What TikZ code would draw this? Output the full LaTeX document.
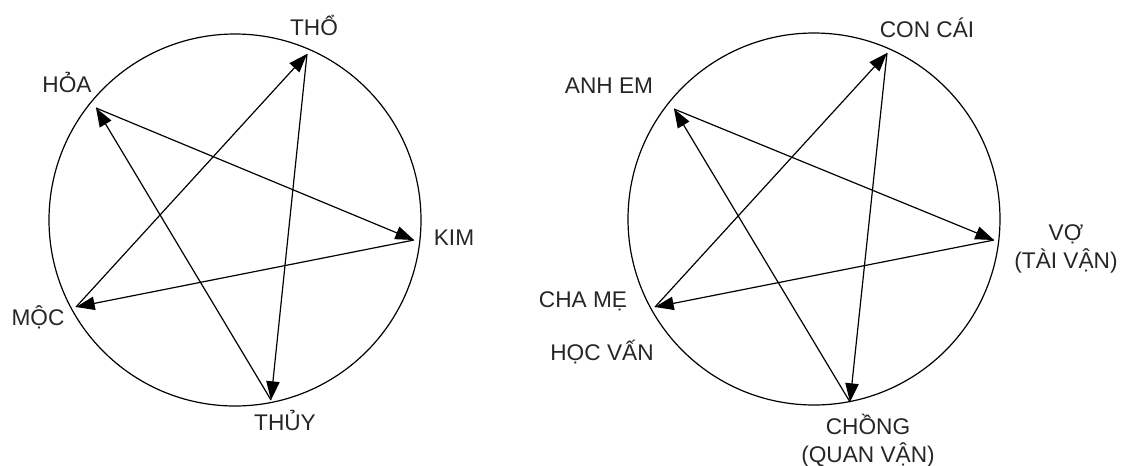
\documentclass[tikz,border=0pt]{standalone}
\usepackage{fontspec}
\setmainfont{Liberation Sans}
\usetikzlibrary{arrows.meta}

\tikzset{every picture/.style={line width=0.9pt}}
\tikzset{
  starline/.style={-{Triangle[length=14pt,width=10pt]}},
  vtxlabel/.style={font=\fontsize{17}{21}\selectfont, text=black!85, inner sep=0pt, anchor=base, align=center}
}

\begin{document}
\begin{tikzpicture}[x=0.75pt,y=0.75pt,yscale=-1,xscale=1]
        \useasboundingbox (0,0) rectangle (1124,465);

        % ngu hanh
        \draw    (235,220) circle (186) ;
        \coordinate (hoa) at (96,108);
        \coordinate (kim) at (414,240);
        \coordinate (moc) at (76,307);
        \coordinate (tho) at (307,54);
        \coordinate (thuy) at (271,400);
        \draw [starline]   (hoa) -- (kim) ;
        \draw [starline]   (kim) -- (moc) ;
        \draw [starline]   (moc) -- (tho) ;
        \draw [starline]   (tho) -- (thuy) ;
        \draw [starline]   (thuy) -- (hoa) ;
        \node [vtxlabel] (thoL) at (314,35) {THỔ};
        \node [vtxlabel] (hoaL) at (67,92) {HỎA};
        \node [vtxlabel] (kimL) at (454,245) {KIM};
        \node [vtxlabel] (mocL) at (38,325) {MỘC};
        \node [vtxlabel] (thuyL) at (285,430) {THỦY};

        % luc than
        \draw    (814,219) circle (186) ;
        \coordinate (anh) at (674,109);
        \coordinate (con) at (887,53);
        \coordinate (vo) at (994,240);
        \coordinate (cha) at (655,307);
        \coordinate (chong) at (850,402);
        \draw [starline]   (anh) -- (vo) ;
        \draw [starline]   (vo) -- (cha) ;
        \draw [starline]   (cha) -- (con) ;
        \draw [starline]   (con) -- (chong) ;
        \draw [starline]   (chong) -- (anh) ;
        \node [vtxlabel] (anhL) at (609,93) {ANH EM};
        \node [vtxlabel] (conL) at (927,37) {CON CÁI};
        \node [vtxlabel] (voL) at (1066,268) {VỢ\\(TÀI VẬN)};
        \node [vtxlabel] (chaL) at (583,307) {CHA MẸ};
        \node [vtxlabel] (hocL) at (602,360) {HỌC VẤN};
        \node [vtxlabel] (chongL) at (868,462) {CHỒNG\\(QUAN VẬN)};
    \end{tikzpicture}
\end{document}
